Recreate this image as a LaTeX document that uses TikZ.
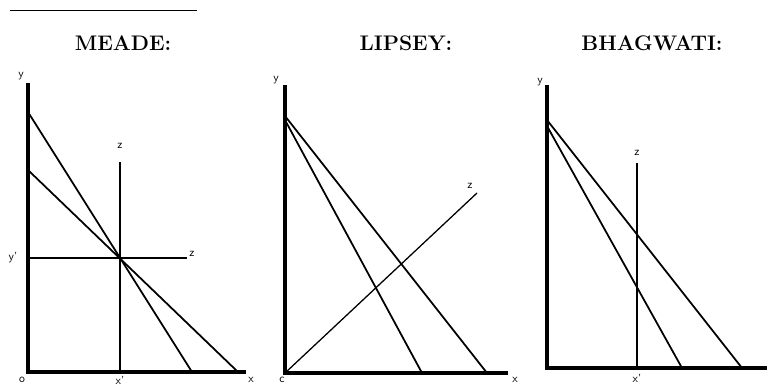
\documentclass[tikz,border=0pt]{standalone}
\usetikzlibrary{positioning}

\begin{document}
\begin{tikzpicture}[
  x=0.03cm, y=-0.03cm,
  every node/.style={font=\fontsize{10}{11}\selectfont\sffamily, inner sep=1pt},
  heading/.style={font=\fontsize{18}{20}\selectfont\bfseries},
  axis/.style={line width=3.2pt},
  budget/.style={line width=1.5pt},
  zline/.style={line width=1.1pt}
]
  \useasboundingbox (0,0) rectangle (769,385);
  \draw[line width=0.8pt] (10,10) -- (197,10);

  %% Headings
  \node[heading] (meade)    at (123,43) {MEADE:};
  \node[heading] (lipsey)   at (406,43) {LIPSEY:};
  \node[heading] (bhagwati) at (652,43) {BHAGWATI:};

  %% MEADE
  \coordinate (mO)  at (28,372);
  \coordinate (mY)  at (28,83);
  \coordinate (mX)  at (246,372);
  \coordinate (mA)  at (28,112);
  \coordinate (mB)  at (28,170);
  \coordinate (mC)  at (192,372);
  \coordinate (mD)  at (238,372);
  \coordinate (mZv) at (120,162);
  \coordinate (mXp) at (120,372);
  \coordinate (mYp) at (28,258);
  \coordinate (mZh) at (187,258);
  \node (mylab)  at (21,76)   {y};
  \node (molab)  at (22,380)  {o};
  \node (mxplab) at (120,380) {x'};
  \node (mxlab)  at (251,380) {x};
  \node (mzvlab) at (120,146) {z};
  \node (mzhlab) at (192,254) {z};
  \node (myplab) at (13,258)  {y'};
  \draw[axis] (mY) -- (mO) -- (mX);
  \draw[zline] (mZv) -- (mXp);
  \draw[zline] (mYp) -- (mZh);
  \draw[budget] (mA) -- (mC);
  \draw[budget] (mB) -- (mD);

  %% LIPSEY
  \coordinate (lO) at (285,373);
  \coordinate (lY) at (285,85);
  \coordinate (lX) at (508,373);
  \coordinate (lA) at (285,116);
  \coordinate (lB) at (285,120);
  \coordinate (lC) at (422,373);
  \coordinate (lD) at (487,373);
  \coordinate (lZ) at (477,193);
  \node (lylab) at (276,80)  {y};
  \node (lolab) at (282,380) {c};
  \node (lxlab) at (515,380) {x};
  \node (lzlab) at (470,186) {z};
  \draw[axis] (lY) -- (lO) -- (lX);
  \draw[budget] (lA) -- (lD);
  \draw[budget] (lB) -- (lC);
  \draw[zline] (lO) -- (lZ);

  %% BHAGWATI
  \coordinate (bO)  at (547,368);
  \coordinate (bY)  at (547,85);
  \coordinate (bX)  at (767,368);
  \coordinate (bA)  at (547,120);
  \coordinate (bB)  at (547,126);
  \coordinate (bC)  at (682,368);
  \coordinate (bD)  at (742,368);
  \coordinate (bZv) at (637,163);
  \coordinate (bXp) at (637,368);
  \node (bylab)  at (540,82)  {y};
  \node (bzlab)  at (637,153) {z};
  \node (bxplab) at (637,378) {x'};
  \draw[axis] (bY) -- (bO) -- (bX);
  \draw[budget] (bA) -- (bD);
  \draw[budget] (bB) -- (bC);
  \draw[zline] (bZv) -- (bXp);
\end{tikzpicture}
\end{document}
